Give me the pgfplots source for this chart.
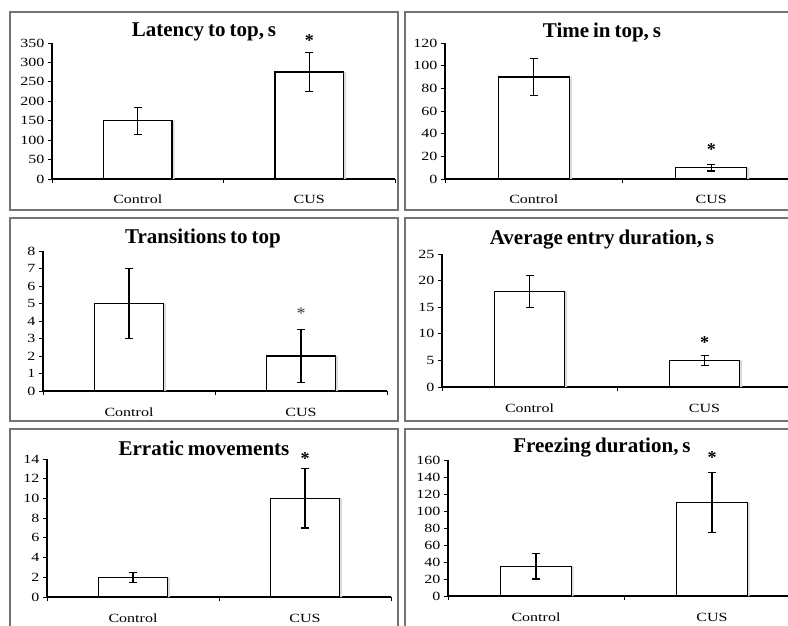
\documentclass[border=0pt]{standalone}
\usepackage{pgfplots}
\pgfplotsset{compat=1.18}
\usepackage{fontspec}
\setmainfont{Liberation Serif}
\newfontfamily\tickfont[FakeStretch=1.28]{Liberation Serif}
\newfontfamily\titlefont[WordSpace=0.75]{Liberation Serif}
\definecolor{boxc}{gray}{0.45}

\pgfplotsset{
 panel/.style={
   scale only axis,
   anchor=south west,
   xmin=-0.5, xmax=1.5,
   ymin=0,
   axis x line=bottom, axis y line=left,
   axis line style={-},
   x axis line style={line width=1.8pt},
   y axis line style={line width=1.1pt},
   tick align=outside,
   major tick length=4pt,
   tick style={black, line width=0.9pt},
   xtick={-0.5,0.5,1.5}, xticklabels={},
   extra x ticks={0,1},
   extra x tick labels={Control,CUS},
   extra x tick style={major tick length=0pt,
     xticklabel style={anchor=base, yshift=-25pt, font=\tickfont\fontsize{12.5}{14}\selectfont}},
   ticklabel style={font=\tickfont\fontsize{12.5}{14}\selectfont},
   /pgf/number format/assume math mode=true,
   ybar, bar width=0.4,
   clip=false,
   enlargelimits=false,
 },
 shadow/.style={fill=black!14, draw=none, bar shift=2.5pt, forget plot},
 bars/.style={fill=white, draw=black, line width=1.3pt, bar shift=0pt,
   error bars/.cd, y dir=both, y explicit,
   error bar style={line width=1.2pt, black},
   error mark options={rotate=90, mark size=4pt, line width=1.2pt, black}},
}

\begin{document}
\begin{tikzpicture}[x=1pt,y=1pt]
\useasboundingbox (0,0) rectangle (788,625);
\clip (0,0) rectangle (788,625);
% panel boxes
\begin{scope}[draw=boxc, line width=1.2pt]
\draw (10,613) rectangle (398,415);
\draw (405,613) rectangle (799,415);
\draw (10,407) rectangle (398,204);
\draw (405,407) rectangle (799,204);
\draw (10,196) rectangle (398,-10);
\draw (405,196) rectangle (799,-10);
\end{scope}

% Panel 1
\begin{axis}[panel, at={(52pt,446pt)}, width=343pt, height=136pt,
  ymax=350, ytick={0,50,...,350}]
\addplot[shadow] coordinates {(0,150) (1,275)};
\addplot[bars] coordinates {(0,150) +- (0,35) (1,275) +- (0,50)};
\node[font=\bfseries\fontsize{18}{18}\selectfont] at (axis cs:1,355) {*};
\end{axis}

% Panel 2
\begin{axis}[panel, at={(445pt,446pt)}, width=355pt, height=136pt,
  ymax=120, ytick={0,20,...,120}]
\addplot[shadow] coordinates {(0,90) (1,10)};
\addplot[bars] coordinates {(0,90) +- (0,16) (1,10) +- (0,3)};
\node[font=\bfseries\fontsize{18}{18}\selectfont] at (axis cs:1,26) {*};
\end{axis}

% Panel 3
\begin{axis}[panel, at={(43pt,234pt)}, width=344pt, height=140pt,
  ymax=8, ytick={0,1,...,8}]
\addplot[shadow] coordinates {(0,5) (1,2)};
\addplot[bars] coordinates {(0,5) +- (0,2) (1,2) +- (0,1.5)};
\node[font=\fontsize{18}{18}\selectfont, text=black!75] at (axis cs:1,4.45) {*};
\end{axis}

% Panel 4
\begin{axis}[panel, at={(442pt,238pt)}, width=350pt, height=133pt,
  ymax=25, ytick={0,5,...,25}]
\addplot[shadow] coordinates {(0,18) (1,5)};
\addplot[bars] coordinates {(0,18) +- (0,3) (1,5) +- (0,0.9)};
\node[font=\bfseries\fontsize{18}{18}\selectfont] at (axis cs:1,8.4) {*};
\end{axis}

% Panel 5
\begin{axis}[panel, at={(47pt,28pt)}, width=344pt, height=138pt,
  ymax=14, ytick={0,2,...,14}]
\addplot[shadow] coordinates {(0,2) (1,10)};
\addplot[bars] coordinates {(0,2) +- (0,0.5) (1,10) +- (0,3)};
\node[font=\bfseries\fontsize{18}{18}\selectfont] at (axis cs:1,14) {*};
\end{axis}

% Panel 6
\begin{axis}[panel, at={(448pt,29pt)}, width=352pt, height=136pt,
  ymax=160, ytick={0,20,...,160}]
\addplot[shadow] coordinates {(0,35) (1,110)};
\addplot[bars] coordinates {(0,35) +- (0,15) (1,110) +- (0,35.5)};
\node[font=\bfseries\fontsize{18}{18}\selectfont] at (axis cs:1,163) {*};
\end{axis}

% titles
\begin{scope}[every node/.style={font=\titlefont\bfseries\fontsize{21}{23}\selectfont}]
\node at (204,593) {Latency to top, s};
\node at (602,593) {Time in top, s};
\node at (203,387) {Transitions to top};
\node at (602,385) {Average entry duration, s};
\node at (204,177) {Erratic movements};
\node at (602,177) {Freezing duration, s};
\end{scope}
\end{tikzpicture}
\end{document}
